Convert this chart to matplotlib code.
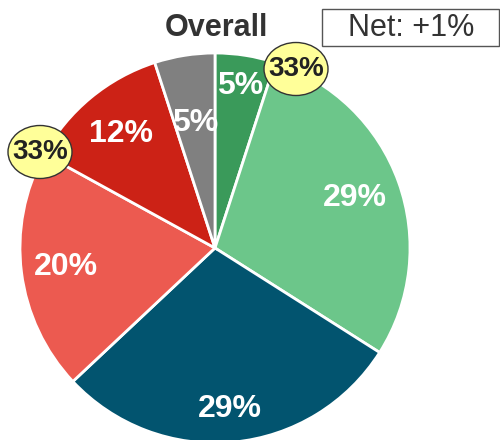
import numpy as np
import matplotlib
matplotlib.use("Agg")
import matplotlib.pyplot as plt
from matplotlib.patches import Ellipse, Rectangle

plt.rcParams['font.family'] = ['Liberation Sans', 'DejaVu Sans']

# Slice shares, clockwise from 12 o'clock
segments = ["Strong positive", "Positive", "Neutral", "Negative", "Strong negative", "No answer"]
values = [5, 29, 29, 20, 12, 5]
colors = ["#3A9A5A", "#6CC68A", "#02546F", "#EC5A50", "#CC2216", "#808080"]
label_radius = [0.84, 0.76, 0.83, 0.77, 0.76, 0.65]

# Group totals shown in callout bubbles
group_totals = [33, 33]
net_value = 1
title = "Overall"

W, H = 500, 440
fig = plt.figure(figsize=(W / 100, H / 100), dpi=100)
ax = fig.add_axes([0, 0, 1, 1])
ax.set_xlim(0, W)
ax.set_ylim(0, H)
ax.axis("off")

cx, cy, R = 215, 440 - 248, 195
wedges, _ = ax.pie(values, colors=colors, startangle=90, counterclock=False,
                   center=(cx, cy), radius=R, frame=True,
                   wedgeprops=dict(edgecolor="white", linewidth=2))
ax.set_xlim(0, W)
ax.set_ylim(0, H)
ax.axis("off")

for w, v, rr in zip(wedges, values, label_radius):
    mid = np.deg2rad((w.theta1 + w.theta2) / 2)
    ax.text(cx + rr * R * np.cos(mid), cy + rr * R * np.sin(mid), f"{v}%",
            ha="center", va="center", color="white", fontsize=23,
            fontweight="bold")

# Callout bubbles with group totals
bubble_pos = [(296, 440 - 69), (40, 440 - 152)]
for (bx, by), t in zip(bubble_pos, group_totals):
    ax.add_patch(Ellipse((bx, by), 64, 53, facecolor="#FFFF99",
                         edgecolor="#333333", linewidth=1, zorder=5))
    ax.text(bx, by, f"{t}%", ha="center", va="center", fontsize=20,
            fontweight="bold", color="#222222", zorder=6)

ax.text(216, 440 - 28, title, ha="center", va="center", fontsize=22,
        fontweight="bold", color="#333333")

ax.add_patch(Rectangle((322, 440 - 46), 177, 37, facecolor="white",
                       edgecolor="#555555", linewidth=1, clip_on=False))
ax.text(411, 440 - 28, f"Net: +{net_value}%", ha="center", va="center",
        fontsize=22, color="#333333")

fig.savefig("out.png", dpi=100)
